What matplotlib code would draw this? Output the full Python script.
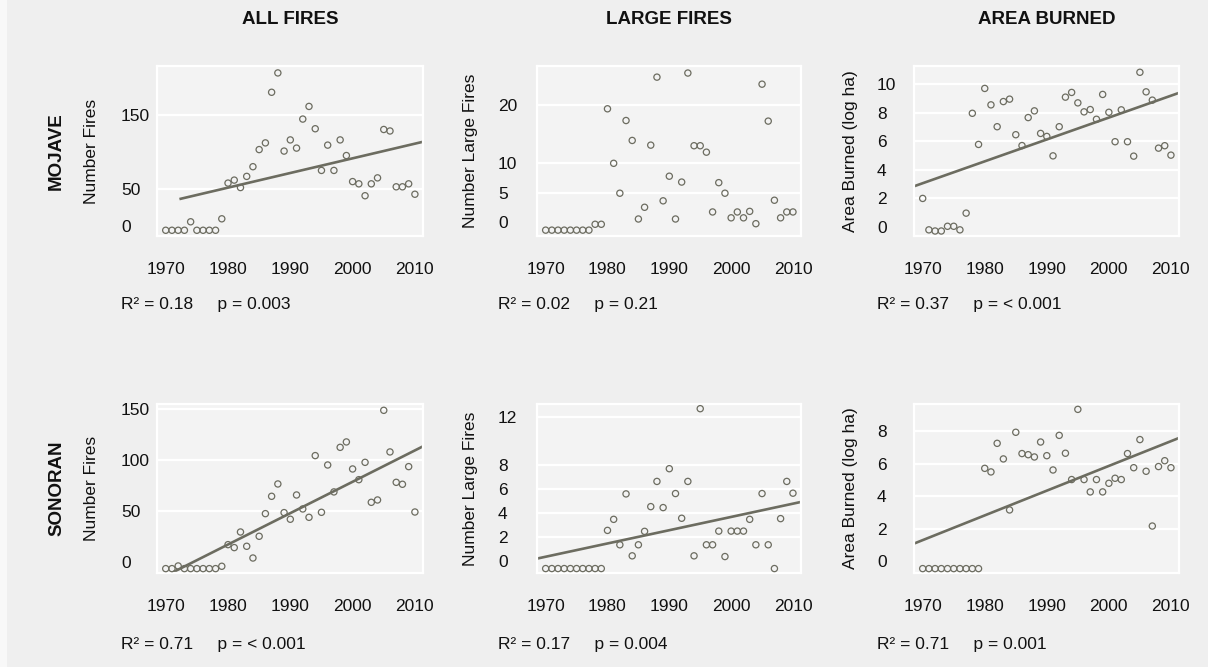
import numpy as np
import matplotlib
matplotlib.use('Agg')
import matplotlib.pyplot as plt
from matplotlib.patches import Rectangle

plt.rcParams['font.family'] = ['Liberation Sans', 'DejaVu Sans']

# ==========================================
# DATA
# ==========================================
years = list(range(1970, 2011))

mojave_all = [-5.4, -5.4, -5.4, -5.4, 6, -5.4, -5.4, -5.4, -5.4, 10,
              58, 62, 52, 67, 80, 103, 112, 180, 206, 101,
              116, 105, 144, 161, 131, 75, 109, 75, 116, 95,
              60, 57, 41, 57, 65, 130, 128, 53, 53, 57, 43]
mojave_large = [-1.4, -1.4, -1.4, -1.4, -1.4, -1.4, -1.4, -1.4, -0.4, -0.4,
                19.3, 10.0, 4.9, 17.3, 13.9, 0.5, 2.5, 13.1, 24.7, 3.6,
                7.8, 0.5, 6.8, 25.4, 13.0, 13.0, 11.9, 1.7, 6.7, 4.9,
                0.7, 1.7, 0.7, 1.8, -0.3, 23.5, 17.2, 3.7, 0.7, 1.7, 1.7]
mojave_area = [2.0, -0.2, -0.28, -0.28, 0.05, 0.05, -0.2, 0.97, 7.96, 5.78,
               9.7, 8.55, 7.02, 8.78, 8.95, 6.46, 5.7, 7.66, 8.13, 6.55,
               6.34, 4.98, 7.02, 9.09, 9.42, 8.69, 8.06, 8.22, 7.54, 9.28,
               8.03, 5.97, 8.2, 5.97, 4.96, 10.83, 9.46, 8.88, 5.52, 5.69, 5.03]

sonoran_all = [-6.2, -6.2, -3.6, -6.2, -6.2, -6.2, -6.2, -6.2, -6.2, -3.9,
               17.3, 14.4, 29.7, 15.7, 4.2, 25.5, 47.7, 64.7, 76.8, 48.7,
               42.2, 66, 52.3, 44.1, 104.6, 49, 95.4, 69, 112.7, 118,
               91.5, 81, 98, 58.8, 61.1, 149, 108.2, 78.4, 76.5, 93.8, 49.3]
sonoran_large = [-0.61, -0.61, -0.61, -0.61, -0.61, -0.61, -0.61, -0.61, -0.61, -0.61,
                 2.57, 3.49, 1.37, 5.61, 0.45, 1.37, 2.49, 4.55, 6.65, 4.47,
                 7.71, 5.64, 3.58, 6.65, 0.45, 12.71, 1.37, 1.37, 2.51, 0.39,
                 2.51, 2.51, 2.51, 3.49, 1.37, 5.64, 1.37, -0.61, 3.55, 6.65, 5.67]
sonoran_area = [-0.45, -0.45, -0.45, -0.45, -0.45, -0.45, -0.45, -0.45, -0.45, -0.45,
                5.72, 5.5, 7.26, 6.3, 3.16, 7.94, 6.63, 6.56, 6.42, 7.34,
                6.5, 5.62, 7.75, 6.65, 5.03, 9.35, 5.03, 4.27, 5.03, 4.27,
                4.8, 5.11, 5.03, 6.63, 5.76, 7.49, 5.54, 2.17, 5.83, 6.19, 5.76]

# fitted trend lines: (x0, y0, x1, y1); None = no line drawn
fits = [
    (1972.2, 36.5, 2011.3, 113.5),
    None,
    (1968.6, 2.85, 2011.3, 9.39),
    (1970.4, -12.1, 2011.3, 113.7),
    (1968.6, 0.22, 2011.3, 4.94),
    (1968.6, 1.09, 2011.3, 7.59),
]

stats = [
    'R\u00b2 = 0.18     p = 0.003',
    'R\u00b2 = 0.02     p = 0.21',
    'R\u00b2 = 0.37     p = < 0.001',
    'R\u00b2 = 0.71     p = < 0.001',
    'R\u00b2 = 0.17     p = 0.004',
    'R\u00b2 = 0.71     p = 0.001',
]

series = [mojave_all, mojave_large, mojave_area, sonoran_all, sonoran_large, sonoran_area]
y_labels = ['Number Fires', 'Number Large Fires', 'Area Burned (log ha)'] * 2
y_ticks = [[0, 50, 150], [0, 5, 10, 20], [0, 2, 4, 6, 8, 10],
           [0, 50, 100, 150], [0, 2, 4, 6, 8, 12], [0, 2, 4, 6, 8]]
y_lims = [(-13.1, 215.3), (-2.4, 26.6), (-0.63, 11.27),
          (-10.5, 155.2), (-0.98, 13.1), (-0.72, 9.68)]
x_ticks = [1970, 1980, 1990, 2000, 2010]
col_titles = ['ALL FIRES', 'LARGE FIRES', 'AREA BURNED']
row_titles = ['MOJAVE', 'SONORAN']

# ==========================================
# LAYOUT (pixels)
# ==========================================
W, H = 1208, 667
BG = '#efefef'
PANEL = '#f3f3f3'
INK = '#6c6c60'

cols_px = [(157, 423), (537, 801), (914, 1179)]
rows_px = [(66, 236), (404, 573)]
label_x_px = [121, 498, 877]
ylabel_x_px = [92, 471, 850]

fig = plt.figure(figsize=(W / 100, H / 100), dpi=100, facecolor=BG)
fig.patches.append(Rectangle((0, 0), 7 / W, 1, transform=fig.transFigure,
                             facecolor='#f8f8f8', edgecolor='none', zorder=-1))

for i, vals in enumerate(series):
    r, c = divmod(i, 3)
    x0, x1 = cols_px[c]
    y0, y1 = rows_px[r]
    ax = fig.add_axes([x0 / W, 1 - y1 / H, (x1 - x0) / W, (y1 - y0) / H])
    ax.set_facecolor(PANEL)
    for s in ax.spines.values():
        s.set_color('white')
        s.set_linewidth(1.6)

    for t in y_ticks[i]:
        if t != 0:
            ax.axhline(t, color='white', lw=1.6, zorder=1)

    ax.scatter(years, vals, s=20, facecolors='none', edgecolors=INK,
               linewidths=0.9, zorder=3)
    if fits[i] is not None:
        fx0, fy0, fx1, fy1 = fits[i]
        ax.plot([fx0, fx1], [fy0, fy1], color=INK, lw=1.9, zorder=2,
                solid_capstyle='butt')

    ax.set_xlim(1968.6, 2011.3)
    ax.set_ylim(*y_lims[i])
    ax.set_xticks(x_ticks)
    ax.set_yticks(y_ticks[i])
    pad_pt = (x0 - label_x_px[c]) * 0.72
    ax.tick_params(axis='y', length=0, pad=pad_pt, labelsize=12.5, labelcolor='#111111')
    ax.tick_params(axis='x', length=0, pad=19, labelsize=12.5, labelcolor='#111111')
    for lab in ax.get_yticklabels():
        lab.set_horizontalalignment('left')

    ax.set_ylabel(y_labels[i], fontsize=12.5, color='#111111')
    ax.yaxis.label.set_verticalalignment('center')
    ax.yaxis.set_label_coords((ylabel_x_px[c] - x0) / (x1 - x0), 0.5)

    # stats line under each panel
    stat_y = 305 if r == 0 else 645
    fig.text(label_x_px[c] / W, 1 - stat_y / H, stats[i], fontsize=12.5,
             ha='left', va='center', color='#111111')

    if r == 0:
        fig.text((x0 + x1) / 2 / W, 1 - 20 / H, col_titles[c], fontsize=13.5,
                 fontweight='bold', ha='center', va='center', color='#111111')
    if c == 0:
        fig.text(56.5 / W, 1 - (y0 + y1) / 2 / H, row_titles[r], fontsize=13.5,
                 fontweight='bold', rotation=90, ha='center', va='center',
                 color='#111111')

fig.savefig('out.png', dpi=100, facecolor=BG)
